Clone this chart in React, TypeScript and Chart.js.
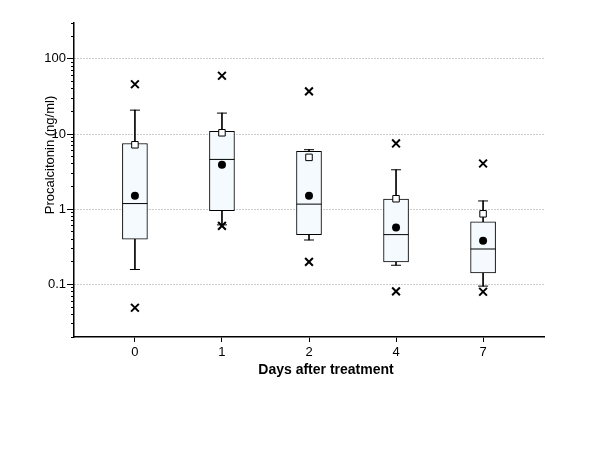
import React, { useEffect, useRef } from "react";
import { Chart, registerables } from "chart.js";

Chart.register(...registerables);

// ---- data ----
const days = ["0", "1", "2", "4", "7"];
const q1 = [0.4, 0.96, 0.46, 0.2, 0.142];
const q3 = [7.5, 10.9, 5.9, 1.37, 0.68];
const medians = [1.19, 4.6, 1.17, 0.46, 0.296];
const whiskerLow = [0.158, 0.62, 0.39, 0.18, 0.095];
const whiskerHigh = [20.8, 19, 6.2, 3.35, 1.29];
const means = [1.51, 3.9, 1.51, 0.57, 0.38];
const squareMarks = [7.2, 10.4, 4.9, 1.38, 0.87];
const upperCross = [46, 59.6, 37, 7.5, 4.06];
const lowerCross = [0.049, 0.6, 0.2, 0.081, 0.08];
const majorTicks = [0.1, 1, 10, 100];
const yMin = 0.02;
const yMax = 300;
const xTitle = "Days after treatment";
const yTitle = "Procalcitonin (ng/ml)";

const FONT = '"Liberation Sans", Arial, Helvetica, sans-serif';

const pts = (vals: number[]) => vals.map((v, i) => ({ x: i, y: v }));

const minorTicks: number[] = [];
for (let e = -2; e <= 2; e++) {
  for (let m = 2; m <= 9; m++) {
    const v = m * Math.pow(10, e);
    if (v >= yMin - 1e-9 && v <= yMax + 1e-9) minorTicks.push(v);
  }
}

const titlesPlugin = {
  id: "axisTitles",
  afterDraw(chart: any) {
    const { ctx } = chart;
    ctx.save();
    ctx.fillStyle = "#000";
    ctx.textAlign = "center";
    ctx.textBaseline = "middle";
    ctx.font = `bold 14px ${FONT}`;
    ctx.fillText(xTitle, 326, 370);
    ctx.translate(50, 155);
    ctx.rotate(-Math.PI / 2);
    ctx.font = `13px ${FONT}`;
    ctx.fillText(yTitle, 0, 0);
    ctx.restore();
  },
};

export default function App() {
  const ref = useRef<HTMLCanvasElement | null>(null);

  useEffect(() => {
    if (!ref.current) return;
    Chart.defaults.font.family = FONT;
    Chart.defaults.font.size = 13;
    Chart.defaults.color = "#000";

    const chart = new Chart(ref.current, {
      type: "bar",
      data: {
        datasets: [
          {
            type: "scatter",
            data: pts(upperCross),
            pointStyle: "crossRot",
            radius: 5.5,
            borderWidth: 2,
            borderColor: "#000",
            order: 0,
          } as any,
          {
            type: "scatter",
            data: pts(lowerCross),
            pointStyle: "crossRot",
            radius: 5.5,
            borderWidth: 2,
            borderColor: "#000",
            order: 0,
          } as any,
          {
            type: "scatter",
            data: pts(means),
            pointStyle: "circle",
            radius: 4,
            borderWidth: 0,
            backgroundColor: "#000",
            order: 1,
          } as any,
          {
            type: "scatter",
            data: pts(squareMarks),
            pointStyle: "rect",
            radius: 4.6,
            borderWidth: 1,
            borderColor: "#000",
            backgroundColor: "#fff",
            order: 1,
          } as any,
          {
            type: "scatter",
            data: pts(medians),
            pointStyle: "line",
            radius: 12.5,
            borderWidth: 1,
            borderColor: "#000",
            order: 2,
          } as any,
          {
            type: "scatter",
            data: pts(whiskerHigh),
            pointStyle: "line",
            radius: 5,
            borderWidth: 1,
            borderColor: "#000",
            order: 2,
          } as any,
          {
            type: "scatter",
            data: pts(whiskerLow),
            pointStyle: "line",
            radius: 5,
            borderWidth: 1,
            borderColor: "#000",
            order: 2,
          } as any,
          {
            type: "bar",
            data: q1.map((v, i) => ({ x: i, y: [v, q3[i]] })),
            backgroundColor: "#F4FAFD",
            borderColor: "#000",
            borderWidth: 1,
            borderSkipped: false,
            barThickness: 25,
            grouped: false,
            order: 5,
          } as any,
          {
            type: "bar",
            data: q3.map((v, i) => ({ x: i, y: [v, whiskerHigh[i]] })),
            backgroundColor: "#000",
            borderWidth: 0,
            barThickness: 1,
            grouped: false,
            order: 6,
          } as any,
          {
            type: "bar",
            data: q1.map((v, i) => ({ x: i, y: [whiskerLow[i], v] })),
            backgroundColor: "#000",
            borderWidth: 0,
            barThickness: 1,
            grouped: false,
            order: 6,
          } as any,
        ],
      },
      options: {
        responsive: false,
        animation: false,
        events: [],
        layout: { padding: { left: 0, top: 23, right: 56, bottom: 0 } },
        plugins: {
          legend: { display: false },
          tooltip: { enabled: false },
          title: { display: false },
        },
        scales: {
          x: {
            type: "linear",
            min: -0.7,
            max: 4.7,
            offset: false,
            afterBuildTicks: (scale: any) => {
              scale.ticks = days.map((_, i) => ({ value: i }));
            },
            afterFit: (scale: any) => {
              scale.height = 114;
            },
            ticks: {
              padding: 3,
              maxRotation: 0,
              callback: (v: any) => days[v as number] ?? "",
              font: { size: 13, family: FONT },
              color: "#000",
            },
            grid: {
              offset: false,
              drawOnChartArea: false,
              drawTicks: true,
              tickLength: 5,
              tickColor: "#000",
              tickWidth: 1,
            },
            border: { display: true, color: "#000", width: 1.5 },
          },
          y: {
            type: "logarithmic",
            position: "left",
            weight: 1,
            min: yMin,
            max: yMax,
            afterBuildTicks: (scale: any) => {
              scale.ticks = majorTicks.map((v) => ({ value: v, major: true }));
            },
            afterFit: (scale: any) => {
              scale.width = 74;
            },
            ticks: {
              padding: 1,
              callback: (v: any) => String(v),
              font: { size: 13, family: FONT },
              color: "#000",
            },
            grid: {
              offset: false,
              drawOnChartArea: true,
              color: "#9a9a9a",
              lineWidth: 1,
              tickLength: 7,
              tickColor: "#000",
              tickWidth: 1,
            },
            border: { display: true, color: "#000", width: 1.5, dash: [1, 2] },
          },
          y2: {
            type: "logarithmic",
            position: "left",
            weight: 0,
            min: yMin,
            max: yMax,
            afterBuildTicks: (scale: any) => {
              scale.ticks = minorTicks.map((v) => ({ value: v }));
            },
            afterFit: (scale: any) => {
              scale.width = 0;
            },
            ticks: { display: false },
            grid: {
              offset: false,
              drawOnChartArea: false,
              tickLength: 3,
              tickColor: "#000",
              tickWidth: 1,
            },
            border: { display: false },
          },
        },
      } as any,
      plugins: [titlesPlugin],
    });
    return () => chart.destroy();
  }, []);

  return (
    <div style={{ position: "absolute", left: 0, top: 0, width: 600, height: 451, background: "#fff" }}>
      <canvas ref={ref} width={600} height={451} />
    </div>
  );
}
